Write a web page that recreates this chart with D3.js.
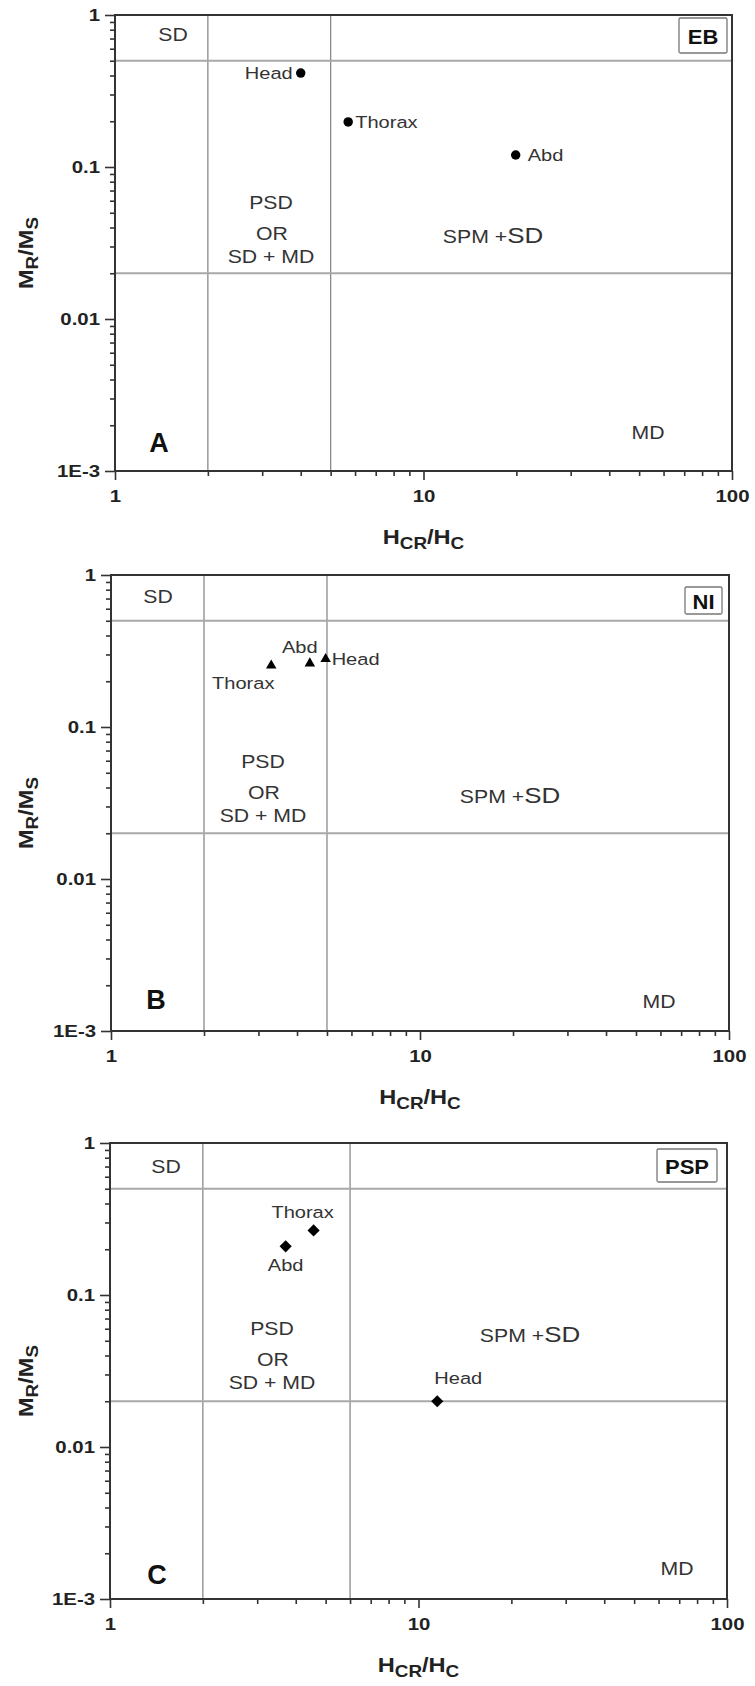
<!DOCTYPE html>
<html lang="en">
<head>
<meta charset="UTF-8">
<title>Day plot - Mr/Ms vs Hcr/Hc</title>
<script src="https://d3js.org/d3.v7.min.js"></script>
<style>
  body { margin: 0; background: #fff; }
  svg { display: block; font-family: Arial, "Liberation Sans", sans-serif; }
  .frame { fill: none; stroke: #333; stroke-width: 2; }
  .vline { stroke: #8a8a8a; stroke-width: 1.3; }
  .hline { stroke: #a8a8a8; stroke-width: 2; }
  .axis path { display: none; }
  .axis line { stroke: #333; stroke-width: 1.6; }
  .axis text { font-size: 17px; font-weight: bold; fill: #222; font-family: Arial, "Liberation Sans", sans-serif; }
  .region { font-size: 18px; fill: #333; }
  .part { font-size: 17px; fill: #333; }
  .title { font-size: 20px; font-weight: bold; fill: #222; }
  .letter { font-size: 27px; font-weight: bold; fill: #111; }
  .tag rect { fill: #fff; stroke: #777; stroke-width: 1.3; }
  .tag text { font-size: 20px; font-weight: bold; fill: #111; }
</style>
</head>
<body>
<svg id="chart" width="755" height="1686"></svg>
<script>
// data
const panelNames = ["EB", "NI", "PSP"];
const panelLetters = ["A", "B", "C"];
const parts = ["Head", "Thorax", "Abd"];
const hcrHc = [[4.0, 5.7, 19.9], [4.95, 3.3, 4.4], [11.5, 4.57, 3.71]];
const mrMs = [[0.415, 0.198, 0.12], [0.28, 0.254, 0.262], [0.02, 0.266, 0.209]];
const sdLimit = 0.5, mdLimit = 0.02, psdLow = 2;
const psdHigh = [5, 5, 6];
const xTicks = [1, 10, 100];
const yTicks = [0.001, 0.01, 0.1, 1];
const yTickLabels = ["1E-3", "0.01", "0.1", "1"];

// layout
const frames = [
  { left: 115, right: 732, top: 15 },
  { left: 111, right: 729, top: 575 },
  { left: 110, right: 727, top: 1143 }
];
const plotH = 456;
const stretch = 1.18;
const markers = [d3.symbolCircle, d3.symbolTriangle, d3.symbolSquare];
const markerSize = [70, 48, 74];
const markerRotate = [0, 0, 45];
// offsets of point labels [dx, dy, anchor]
const partOffsets = [
  [[-8, 0, "end"], [7, 0, "start"], [12, 0, "start"]],
  [[6, 0, "start"], [-28, 18, "middle"], [-10, -16, "middle"]],
  [[21, -23, "middle"], [-11, -18, "middle"], [0, 19, "middle"]]
];
// region label positions, relative to frame left / top
const regionPos = [
  { sd: [58, 20], psd: [156, 188], spm: [378, 222], md: [533, 418], letter: [44, 428], tag: [48, 35, 5, 3] },
  { sd: [47, 22], psd: [152, 187], spm: [399, 222], md: [548, 427], letter: [45, 425], tag: [37, 27, 7, 12] },
  { sd: [56, 24], psd: [162, 186], spm: [420, 193], md: [567, 426], letter: [47, 432], tag: [60, 33, 10, 6] }
];

const svg = d3.select("#chart");

function label(g, x, y, str, cls, anchor) {
  return g.append("text")
    .attr("class", cls)
    .attr("text-anchor", anchor || "middle")
    .attr("dy", "0.35em")
    .attr("transform", `translate(${x},${y}) scale(${stretch},1)`)
    .text(str);
}

panelNames.forEach((name, i) => {
  const f = frames[i];
  const bottom = f.top + plotH;
  const x = d3.scaleLog().domain([1, 100]).range([f.left, f.right]);
  const y = d3.scaleLog().domain([0.001, 1]).range([bottom, f.top]);
  const g = svg.append("g");

  // Grenzlinien der Domänenfelder
  [psdLow, psdHigh[i]].forEach(v => {
    g.append("line").attr("class", "vline")
      .attr("x1", x(v)).attr("x2", x(v)).attr("y1", f.top).attr("y2", bottom);
  });
  [sdLimit, mdLimit].forEach(v => {
    g.append("line").attr("class", "hline")
      .attr("x1", f.left).attr("x2", f.right).attr("y1", y(v)).attr("y2", y(v));
  });

  // axes: major + minor ticks
  const xMinor = x.ticks().filter(d => !xTicks.includes(d));
  const yMinor = y.ticks().filter(d => !yTicks.some(t => Math.abs(t - d) < 1e-9));

  g.append("g").attr("class", "axis")
    .attr("transform", `translate(0,${bottom})`)
    .call(d3.axisBottom(x).tickValues(xMinor).tickSize(5).tickFormat(""));
  const xa = g.append("g").attr("class", "axis")
    .attr("transform", `translate(0,${bottom})`)
    .call(d3.axisBottom(x).tickValues(xTicks).tickSize(9).tickPadding(10).tickFormat(d3.format("d")));
  xa.selectAll("text").attr("transform", "scale(1.2,1)").attr("x", 0);

  g.append("g").attr("class", "axis")
    .attr("transform", `translate(${f.left},0)`)
    .call(d3.axisLeft(y).tickValues(yMinor).tickSize(5).tickFormat(""));
  const ya = g.append("g").attr("class", "axis")
    .attr("transform", `translate(${f.left},0)`)
    .call(d3.axisLeft(y).tickValues(yTicks).tickSize(10).tickPadding(5)
      .tickFormat((d, k) => yTickLabels[k]));
  ya.selectAll("text").attr("transform", "scale(1.2,1)").attr("x", -15 / 1.2);

  g.append("rect").attr("class", "frame")
    .attr("x", f.left).attr("y", f.top)
    .attr("width", f.right - f.left).attr("height", plotH);

  // region labels
  const r = regionPos[i];
  label(g, f.left + r.sd[0], f.top + r.sd[1], "SD", "region");
  label(g, f.left + r.psd[0], f.top + r.psd[1], "PSD", "region");
  label(g, f.left + r.psd[0] + 1, f.top + r.psd[1] + 31, "OR", "region");
  label(g, f.left + r.psd[0], f.top + r.psd[1] + 54, "SD + MD", "region");
  const spm = label(g, f.left + r.spm[0], f.top + r.spm[1], "", "region");
  spm.append("tspan").text("SPM +");
  spm.append("tspan").style("font-size", "22px").text("SD");
  label(g, f.left + r.md[0], f.top + r.md[1], "MD", "region");

  g.append("text").attr("class", "letter")
    .attr("text-anchor", "middle").attr("dy", "0.35em")
    .attr("x", f.left + r.letter[0]).attr("y", f.top + r.letter[1])
    .text(panelLetters[i]);

  // sample tag box
  const tag = g.append("g").attr("class", "tag");
  const tw = r.tag[0], th = r.tag[1];
  const tx = f.right - r.tag[2] - tw, ty = f.top + r.tag[3];
  tag.append("rect").attr("x", tx).attr("y", ty).attr("width", tw).attr("height", th).attr("rx", 1.5);
  tag.append("text").attr("text-anchor", "middle").attr("dy", "0.36em")
    .attr("transform", `translate(${tx + tw / 2},${ty + th / 2 + 1}) scale(1.1,1)`)
    .text(name);

  // data points
  parts.forEach((p, j) => {
    const px = x(hcrHc[i][j]), py = y(mrMs[i][j]);
    g.append("path")
      .attr("d", d3.symbol().type(markers[i]).size(markerSize[i])())
      .attr("transform", `translate(${px},${py}) rotate(${markerRotate[i]})`)
      .attr("fill", "#000");
    const o = partOffsets[i][j];
    label(g, px + o[0], py + o[1], p, "part", o[2]);
  });

  // axis titles
  const xt = g.append("text").attr("class", "title").attr("text-anchor", "middle")
    .attr("transform", `translate(${(f.left + f.right) / 2},${bottom + 73}) scale(${stretch},1)`);
  xt.append("tspan").text("H");
  xt.append("tspan").attr("dy", 5).style("font-size", "16px").text("CR");
  xt.append("tspan").attr("dy", -5).text("/H");
  xt.append("tspan").attr("dy", 5).style("font-size", "16px").text("C");

  const yt = g.append("text").attr("class", "title").attr("text-anchor", "middle")
    .attr("transform", `translate(33,${f.top + plotH / 2 + 10}) rotate(-90) scale(${stretch},1)`);
  yt.append("tspan").text("M");
  yt.append("tspan").attr("dy", 5).style("font-size", "16px").text("R");
  yt.append("tspan").attr("dy", -5).text("/M");
  yt.append("tspan").attr("dy", 5).style("font-size", "16px").text("S");
});
</script>
</body>
</html>
